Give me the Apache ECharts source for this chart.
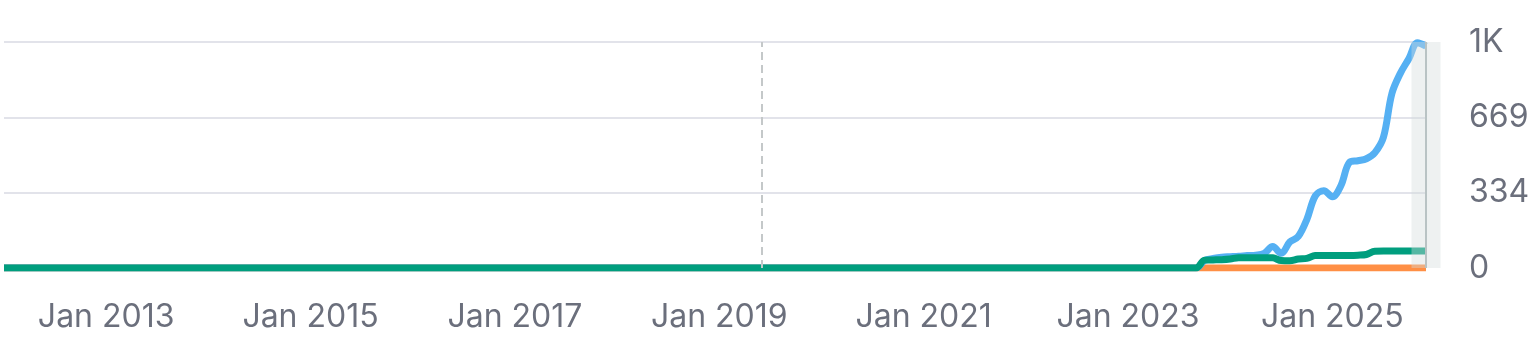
<!DOCTYPE html>
<html>
<head>
<meta charset="utf-8">
<script src="https://cdn.jsdelivr.net/npm/echarts@6/dist/echarts.min.js"></script>
<style>
  html, body { margin: 0; padding: 0; background: #fff; }
  #chart { width: 1536px; height: 355px; }
</style>
</head>
<body>
<div id="chart"></div>
<script>
// monthly categories Jan 2012 .. Dec 2025
var startYear = 2012;
var endYear = 2025;
var months = [];
for (var y = startYear; y <= endYear; y++) {
    for (var m = 1; m <= 12; m++) {
        months.push(y + '-' + (m < 10 ? '0' + m : m));
    }
}

// values before tailStart are all zero
var tailStart = '2023-10';
var blueTail = [33, 42, 48, 50, 52, 55, 57, 65, 95, 65, 115, 140, 215, 320, 343, 316, 365, 468, 476, 485, 512, 580, 775, 865, 930, 1000, 985];
var greenTail = [35, 36, 37, 40, 46, 46, 46, 46, 45, 33, 32, 40, 43, 55, 56, 56, 56, 56, 57, 60, 74, 75, 75, 75, 75, 75, 75];
var orangeTail = [0, 0, 0, 0, 0, 0, 0, 0, 0, 0, 0, 0, 0, 0, 0, 0, 0, 0, 0, 0, 0, 0, 0, 0, 0, 0, 0];

var yMax = 1003;
var markMonth = '2019-06';

function padTail(tail) {
    var start = months.indexOf(tailStart);
    var out = [];
    for (var i = 0; i < months.length; i++) {
        out.push(i < start ? 0 : tail[i - start]);
    }
    return out;
}

var labelColor = '#6b6f7c';
var fontFamily = 'Inter, "Noto Sans", sans-serif';

function initEcharts() {
    var myChart = echarts.init(document.getElementById('chart'));

    var lineBase = {
        type: 'line',
        smooth: 0.35,
        showSymbol: false,
        symbol: 'none',
        silent: true
    };

    var option = {
        animation: false,
        grid: {
            left: 4,
            right: 110,
            top: 42,
            bottom: 87,
            containLabel: false
        },
        xAxis: {
            type: 'category',
            data: months,
            boundaryGap: false,
            axisLine: { show: false },
            axisTick: { show: false },
            splitLine: { show: false },
            axisLabel: {
                interval: function(idx, val) {
                    var parts = val.split('-');
                    return parts[1] === '01' && (+parts[0]) % 2 === 1;
                },
                formatter: function(val) {
                    return 'Jan ' + val.split('-')[0];
                },
                color: labelColor,
                fontSize: 32,
                fontFamily: fontFamily,
                margin: 33
            }
        },
        yAxis: {
            type: 'value',
            position: 'right',
            min: 0,
            max: yMax,
            interval: yMax / 3,
            axisLine: { show: false },
            axisTick: { show: false },
            splitLine: {
                lineStyle: { color: '#e2e3ea', width: 2 }
            },
            axisLabel: {
                margin: 43,
                color: labelColor,
                fontSize: 32,
                fontFamily: fontFamily,
                formatter: function(v) {
                    return v >= 999.5 ? '1K' : String(Math.round(v));
                }
            }
        },
        series: [
            Object.assign({}, lineBase, {
                name: 'orange',
                data: padTail(orangeTail),
                lineStyle: { color: '#ff8f45', width: 7 },
                markLine: {
                    silent: true,
                    symbol: 'none',
                    label: { show: false },
                    lineStyle: { color: '#c4c8c9', width: 2, type: [8, 5] },
                    data: [{ xAxis: markMonth }]
                }
            }),
            Object.assign({}, lineBase, {
                name: 'blue',
                data: padTail(blueTail),
                lineStyle: { color: '#55b0f3', width: 7 }
            }),
            Object.assign({}, lineBase, {
                name: 'green',
                data: padTail(greenTail),
                lineStyle: { color: '#009e7e', width: 7 }
            })
        ]
    };

    myChart.setOption(option);

    // highlight band on the last month
    var last = months[months.length - 1];
    var px = myChart.convertToPixel({ xAxisIndex: 0 }, last);
    var yTop = myChart.convertToPixel({ yAxisIndex: 0 }, yMax);
    var yBottom = myChart.convertToPixel({ yAxisIndex: 0 }, 0);
    myChart.setOption({
        graphic: [
            {
                type: 'rect',
                z: 100,
                silent: true,
                shape: { x: px - 14.5, y: yTop, width: 29, height: yBottom - yTop },
                style: { fill: 'rgba(212,220,221,0.4)' }
            },
            {
                type: 'line',
                z: 101,
                silent: true,
                shape: { x1: px, y1: yTop, x2: px, y2: yBottom },
                style: { stroke: '#b9c3c4', lineWidth: 2 }
            }
        ]
    });
    resize(myChart);
}

function resize(echart) {
    window.onresize = function() {
        echart.resize();
    };
}

initEcharts();
</script>
</body>
</html>
